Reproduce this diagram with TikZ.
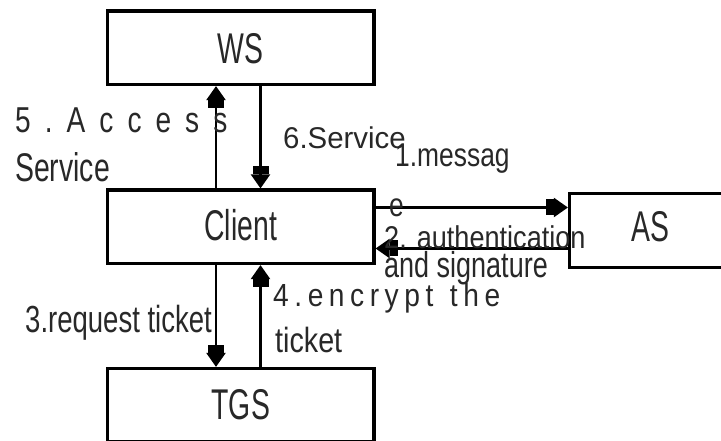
\documentclass[tikz,border=0pt]{standalone}
\usepackage{fontspec}
\setmainfont{Liberation Sans}
\usepackage{graphicx}
\usetikzlibrary{arrows.meta}
\definecolor{txtcol}{RGB}{40,40,40}
% size (pt), horizontal squeeze, text
\newcommand{\lbltext}[3]{{\fontsize{#1pt}{#1pt}\selectfont\scalebox{#2}[1]{#3}}}
\begin{document}
\begin{tikzpicture}[x=1pt,y=-1pt,
  box/.style={draw=black, line width=3.2pt, minimum width=266.5pt,
    minimum height=73.5pt, inner sep=0pt, text height=31pt, text depth=0pt,
    font=\fontsize{43pt}{43pt}\selectfont, text=txtcol},
  arr/.style={line width=2.4pt,
    -{Rectangle[length=8pt,width=16pt]Triangle[length=14pt,width=19pt]}},
  lbl/.style={anchor=base west, inner sep=0pt, text=txtcol},
]
\fill[white] (0,0) rectangle (721,441);
\useasboundingbox (0,0) rectangle (721,441);
\clip (0,0) rectangle (721,441);

% boxes
\node[box] (ws) at (240.75,47.75) {\scalebox{0.66}[1]{WS}};
\node[box, text depth=3.4pt] (client) at (240.75,226.75) {\scalebox{0.66}[1]{Client}};
\node[box, text depth=2.5pt] (tgs) at (240.75,405.25) {\scalebox{0.66}[1]{TGS}};
\node[box, minimum width=161pt, minimum height=74pt, text depth=8pt] (as) at (650,230.5) {\scalebox{0.66}[1]{AS}};

% guide positions for the connectors
\coordinate (xl) at (216,0);
\coordinate (xr) at (260.5,0);
\coordinate (yu) at (0,207.5);
\coordinate (yd) at (0,248.5);

% connectors
\draw[arr] (client.north -| xl) -- (ws.south -| xl);
\draw[arr] (ws.south -| xr) -- (client.north -| xr);
\draw[arr] (client.south -| xl) -- (tgs.north -| xl);
\draw[arr] (tgs.north -| xr) -- (client.south -| xr);
\draw[arr] (client.east |- yu) -- (as.west |- yu);
\draw[arr] (as.west |- yd) -- (client.east |- yd);

% labels
\node[lbl] (accessA) at (15,133) {\lbltext{36}{0.78}{\makebox[272pt][s]{5\hfill.\hfill A\hfill c\hfill c\hfill e\hfill s\hfill s}}};
\node[lbl] (accessB) at (15,182) {\lbltext{40}{0.71}{Service}};
\node[lbl] (svc) at (283,148.5) {\lbltext{30}{0.98}{6.Service}};
\node[lbl] (msgA) at (395,167) {\lbltext{33}{0.8}{1.messag}};
\node[lbl] (msgB) at (389,217) {\lbltext{33}{0.8}{e}};
\node[lbl] (authA) at (384,248.5) {\lbltext{31.5}{0.86}{2. authentication}};
\node[lbl] (authB) at (384,277) {\lbltext{36}{0.75}{and signature}};
\node[lbl] (encA) at (273,306) {\lbltext{32}{0.88}{\makebox[258pt][s]{4\hfill.\hfill e\hfill n\hfill c\hfill r\hfill y\hfill p\hfill t\hfill\hfill\hfill t\hfill h\hfill e}}};
\node[lbl] (encB) at (275,352) {\lbltext{35}{0.82}{ticket}};
\node[lbl] (req) at (25,332) {\lbltext{37.7}{0.73}{3.request ticket}};
\end{tikzpicture}
\end{document}
